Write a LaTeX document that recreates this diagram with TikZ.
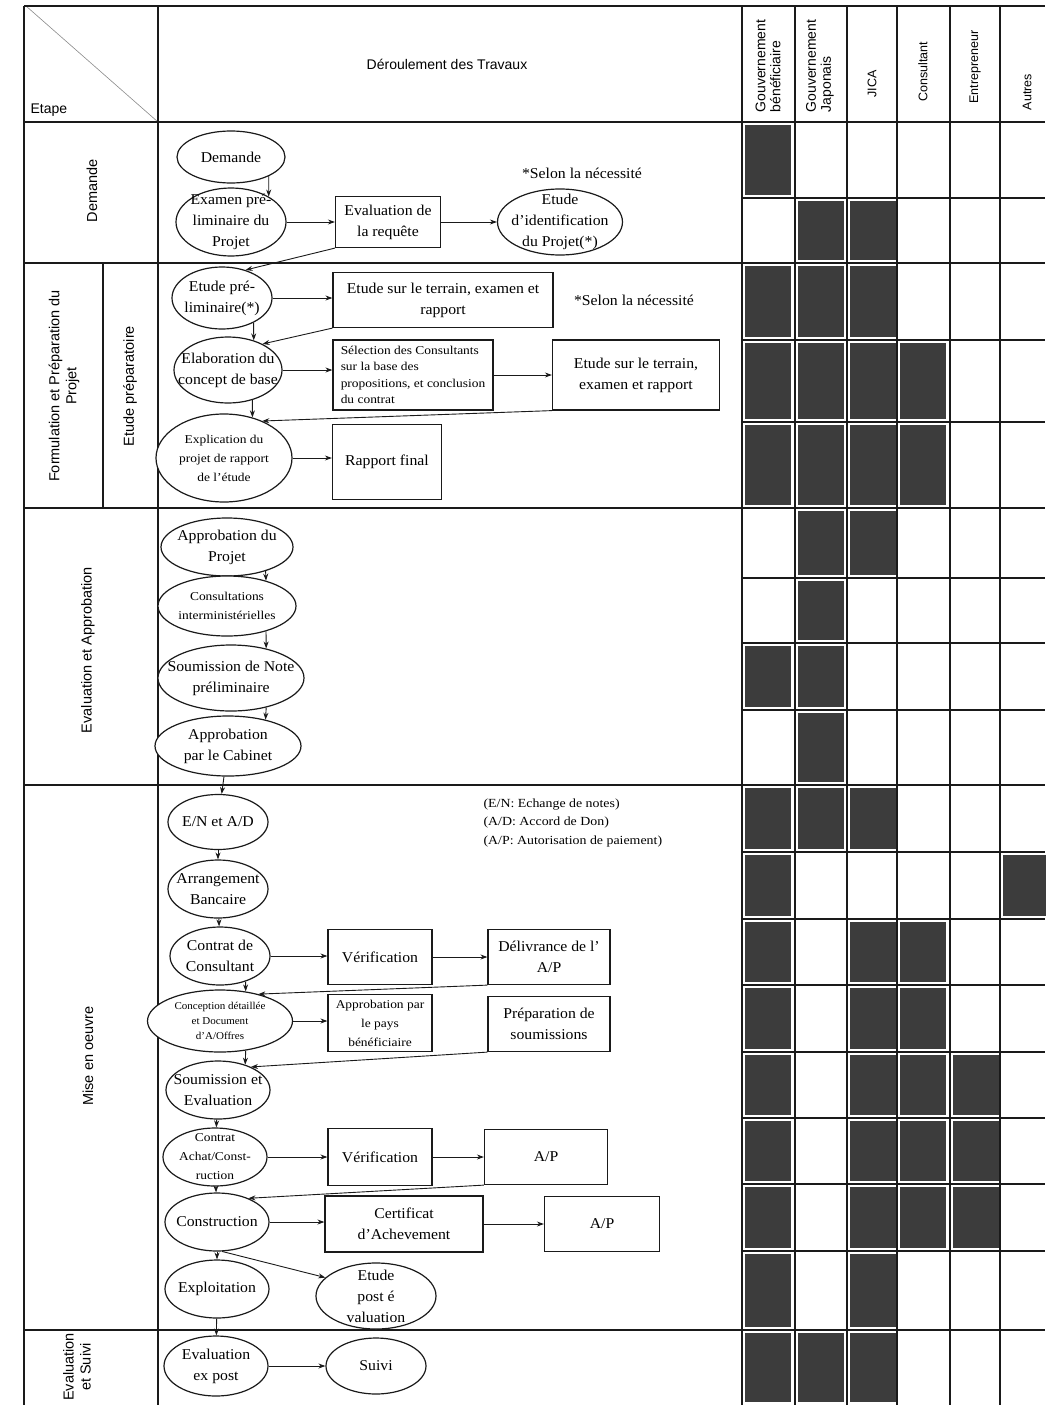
\documentclass[tikz,border=0pt]{standalone}
\usepackage{fontspec}
\setmainfont{Liberation Serif}
\setsansfont{Liberation Sans}
\newfontfamily\flowfam{Liberation Serif}[FakeStretch=1.05,Ligatures=TeX]
\newfontfamily\smallfam{Liberation Serif}[FakeStretch=1.12,Ligatures=TeX]
\usetikzlibrary{arrows.meta,shapes.geometric,calc}
\definecolor{ink}{HTML}{1A1A1A}
\definecolor{celldark}{HTML}{3C3C3C}
\definecolor{diagline}{HTML}{8A8A8A}
\newcommand\flowfont{\flowfam\fontsize{15}{21}\selectfont}
\newcommand\smallflow{\smallfam\fontsize{12}{19}\selectfont}
\newcommand\tinyflow{\flowfam\fontsize{10.5}{15}\selectfont}
\newcommand\sidefont{\sffamily\fontsize{14.5}{17}\selectfont}
\newcommand\headfont{\sffamily\fontsize{12.5}{14}\selectfont}
\tikzset{
  stepnode/.style={
    ellipse,draw=ink,fill=white,line width=1.2pt,
    inner xsep=-14pt,inner ysep=-6pt,align=center,font=\flowfont
  },
  boxnode/.style={
    rectangle,draw=ink,fill=white,line width=1.2pt,
    inner sep=2pt,align=center,font=\flowfont
  },
  arrow/.style={-{Stealth[length=7pt,width=5pt]},draw=ink,line width=.9pt},
  rule/.style={draw=ink,line width=1.2pt},
  cell/.style={fill=celldark},
  sidelabel/.style={rotate=90,align=center,font=\sidefont},
  headlabel/.style={rotate=90,align=left,font=\headfont},
  note/.style={align=left,font=\flowfont}
}

\begin{document}
\begin{tikzpicture}[x=1pt,y=-1pt]
\fill[white] (0,0) rectangle (1045,1405);
\useasboundingbox (0,0) rectangle (1045,1405);

% table
\foreach \ya/\yb/\cols in {122/198/{742},198/263/{795,847},263/340/{742,795,847},
  340/422/{742,795,847,897},422/508/{742,795,847,897},508/578/{795,847},
  578/643/{795},643/710/{742,795},710/785/{795},785/852/{742,795,847},
  852/919/{742,1000},919/985/{742,847,897},985/1052/{742,847,897},
  1052/1118/{742,847,897,950},1118/1184/{742,847,897,950},
  1184/1251/{742,847,897,950},1251/1330/{742,847},1330/1405/{742,795,847}}
  {\foreach \xa in \cols {\fill[cell] (\xa+3,\ya+3) rectangle (\xa+49,\yb-3);}}
\draw[diagline,line width=.6pt] (26,6) -- (158,122);
\draw[rule] (24,6) -- (1045,6);
\draw[rule,line width=2pt] (24,122) -- (1045,122);
\foreach \y in {263,508,785,1330} \draw[rule] (24,\y) -- (1045,\y);
\foreach \y in {198,340,422,578,643,710,852,919,985,1052,1118,1184,1251}
  \draw[rule] (742,\y) -- (1045,\y);
\foreach \x in {24,158,742,795,847,897,950,1000} \draw[rule] (\x,6) -- (\x,1405);
\draw[rule] (103,263) -- (103,508);

\node[font=\sffamily\fontsize{14}{17}\selectfont] (deroul) at (447,64) {Déroulement des Travaux};
\node[font=\sffamily\fontsize{14}{17}\selectfont,anchor=south west] (etape) at (27,120) {Etape};
\node[headlabel,font=\sffamily\fontsize{14}{15}\selectfont] (gouvben) at (768,66) {Gouvernement\\bénéficiaire};
\node[headlabel,font=\sffamily\fontsize{14}{15}\selectfont] (gouvjap) at (820,66) {Gouvernement\\Japonais};
\node[headlabel] (jica) at (872,84) {JICA};
\node[headlabel] (consultant) at (923,72) {Consultant};
\node[headlabel] (entrepreneur) at (975,67) {Entrepreneur};
\node[headlabel] (autres) at (1027,92) {Autres};

\node[sidelabel] (secdem) at (92,191) {Demande};
\node[sidelabel] (secform) at (64,386) {Formulation et Préparation du\\Projet};
\node[sidelabel] (secprep) at (130,386) {Etude préparatoire};
\node[sidelabel] (seceval) at (88,650) {Evaluation et Approbation};
\node[sidelabel] (secmise) at (88,1056) {Mise en oeuvre};
\node[sidelabel] (secsuivi) at (77,1367) {Evaluation\\et Suivi};

% Demande
\node[stepnode,minimum width=108,minimum height=52] (demande) at (231,157) {Demande};
\node[stepnode,minimum width=110,minimum height=68] (examen) at (231,222) {Examen pré-\\liminaire du\\Projet};
\node[boxnode,minimum width=105,minimum height=51] (evalreq) at (388,222) {Evaluation de\\la requête};
\node[stepnode,minimum width=125,minimum height=66] (identif) at (560,222) {Etude\\d'identification\\du Projet(*)};
\node[note] (selonA) at (582,173) {*Selon la nécessité};

% Formulation
\node[stepnode,minimum width=100,minimum height=62] (etudepre) at (222,298) {Etude pré-\\liminaire(*)};
\node[boxnode,minimum width=220,minimum height=55] (terrainA) at (443,300) {Etude sur le terrain, examen et\\rapport};
\node[note] (selonB) at (634,300) {*Selon la nécessité};
\node[stepnode,minimum width=108,minimum height=66] (concept) at (228,370) {Elaboration du\\concept de base};
\node[boxnode,minimum width=160,minimum height=70,align=left,font=\smallfam\fontsize{12}{16.5}\selectfont] (selection) at (413,375) {Sélection des Consultants\\sur la base des\\propositions, et conclusion\\du contrat};
\node[boxnode,minimum width=167,minimum height=70] (terrainB) at (636,375) {Etude sur le terrain,\\examen et rapport};
\node[stepnode,minimum width=136,minimum height=88,font=\smallflow] (explic) at (224,458) {Explication du\\projet de rapport\\de l'étude};
\node[boxnode,minimum width=109,minimum height=75] (rapport) at (387,462) {Rapport final};

% Evaluation et Approbation
\node[stepnode,minimum width=132,minimum height=58] (approbA) at (227,547) {Approbation du\\Projet};
\node[stepnode,minimum width=138,minimum height=60,font=\smallflow] (consult) at (227,606) {Consultations\\interministérielles};
\node[stepnode,minimum width=146,minimum height=66,inner xsep=-20pt] (notepre) at (231,678) {Soumission de Note\\préliminaire};
\node[stepnode,minimum width=146,minimum height=60] (cabinet) at (228,746) {Approbation\\par le Cabinet};

% Mise en oeuvre
\node[stepnode,minimum width=100,minimum height=55] (enad) at (218,822) {E/N et A/D};
\node[stepnode,minimum width=100,minimum height=58] (banque) at (218,889) {Arrangement\\Bancaire};
\node[stepnode,minimum width=100,minimum height=58] (contratC) at (220,956) {Contrat de\\Consultant};
\node[boxnode,minimum width=104,minimum height=55] (verifA) at (380,957) {Vérification};
\node[boxnode,minimum width=122,minimum height=55] (delivre) at (549,957) {Délivrance de l'\\A/P};
\node[stepnode,minimum width=145,minimum height=62,font=\tinyflow] (conception) at (220,1021) {Conception détaillée\\et Document\\d'A/Offres};
\node[boxnode,minimum width=104,minimum height=57,font=\smallflow] (paysbenef) at (380,1023) {Approbation par\\le pays\\bénéficiaire};
\node[boxnode,minimum width=122,minimum height=55] (prepsoum) at (549,1024) {Préparation de\\soumissions};
\node[stepnode,minimum width=104,minimum height=58] (soumeval) at (218,1090) {Soumission et\\Evaluation};
\node[note,font=\smallfam\fontsize{12.4}{18.5}\selectfont,anchor=north west] (abbrev) at (480,795) {(E/N: Echange de notes)\\(A/D: Accord de Don)\\(A/P: Autorisation de paiement)};
\node[stepnode,minimum width=104,minimum height=58,font=\smallflow] (contratAC) at (215,1157) {Contrat\\Achat/Const-\\ruction};
\node[boxnode,minimum width=104,minimum height=57] (verifB) at (380,1157) {Vérification};
\node[boxnode,minimum width=123,minimum height=55] (apA) at (546,1157) {A/P};
\node[stepnode,minimum width=104,minimum height=58] (construct) at (217,1222) {Construction};
\node[boxnode,minimum width=158,minimum height=56] (certif) at (404,1224) {Certificat\\d'Achevement};
\node[boxnode,minimum width=115,minimum height=55] (apB) at (602,1224) {A/P};
\node[stepnode,minimum width=104,minimum height=58] (exploit) at (217,1289) {Exploitation};
\node[stepnode,minimum width=120,minimum height=66] (postev) at (376,1296) {Etude\\post é\\valuation};

% Evaluation et Suivi
\node[stepnode,minimum width=104,minimum height=60] (expost) at (216,1366) {Evaluation\\ex post};
\node[stepnode,minimum width=100,minimum height=56] (suivi) at (376,1366) {Suivi};

\draw[arrow] (demande.-27) -- (examen.34);
\draw[arrow] (examen) -- (evalreq);
\draw[arrow] (evalreq) -- (identif);
\draw[arrow] (evalreq.south west) -- (etudepre.50);
\draw[arrow] (etudepre.east) -- (etudepre.east -| terrainA.west);
\draw[arrow] (etudepre.-38) -- (concept.49);
\draw[arrow] (terrainA.south west) -- (concept.37);
\draw[arrow] (concept.east) -- (concept.east -| selection.west);
\draw[arrow] (selection) -- (terrainB);
\draw[arrow] (terrainB.south west) -- (explic.44);
\draw[arrow] (concept.-51) -- (explic.55);
\draw[arrow] (explic.east) -- (explic.east -| rapport.west);
\draw[arrow] (approbA.-32) -- (consult.33);
\draw[arrow] (consult.-33) -- (notepre.40);
\draw[arrow] (notepre.-40) -- (cabinet.35);
\draw[arrow] (cabinet) -- (enad);
\draw[arrow] (enad) -- (banque);
\draw[arrow] (banque) -- (contratC);
\draw[arrow] (contratC.east) -- (contratC.east -| verifA.west);
\draw[arrow] (verifA) -- (delivre);
\draw[arrow] (delivre.south west) -- (conception.35);
\draw[arrow] (contratC.-45) -- (conception.49);
\draw[arrow] (conception.east) -- (conception.east -| paysbenef.west);
\draw[arrow] (prepsoum.south west) -- (soumeval.35);
\draw[arrow] (conception.-49) -- (soumeval.43);
\draw[arrow] (soumeval) -- (contratAC);
\draw[arrow] (contratAC) -- (verifB);
\draw[arrow] (verifB) -- (apA);
\draw[arrow] (apA.south west) -- (construct.37);
\draw[arrow] (contratAC) -- (construct);
\draw[arrow] (construct.east) -- (construct.east -| certif.west);
\draw[arrow] (certif) -- (apB);
\draw[arrow] (construct) -- (exploit);
\draw[arrow] (construct.-80) -- (postev.160);
\draw[arrow] (exploit) -- (expost);
\draw[arrow] (expost) -- (suivi);
\end{tikzpicture}
\end{document}
